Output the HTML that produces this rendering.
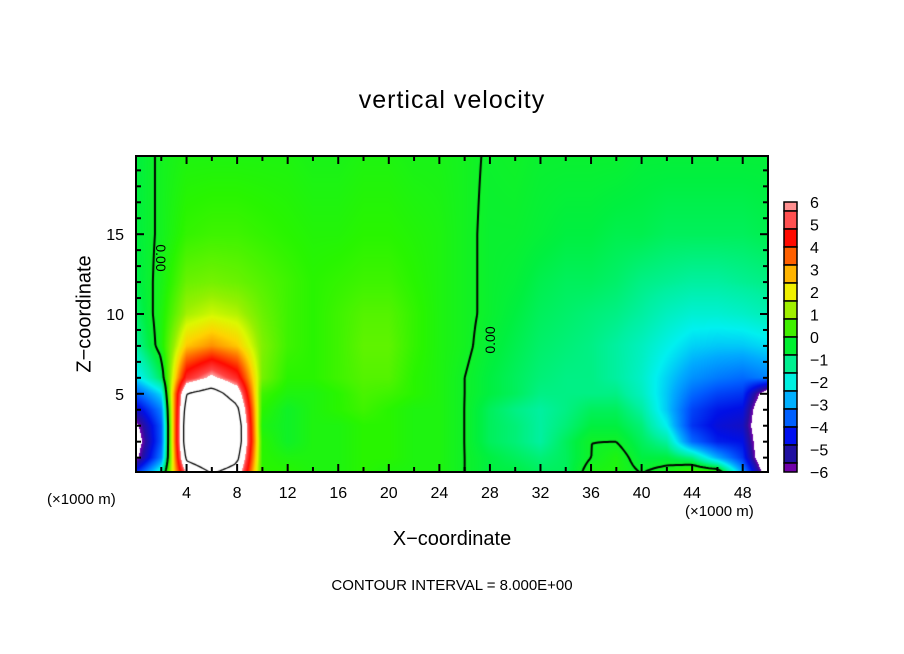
<!DOCTYPE html>
<html><head><meta charset="utf-8">
<style>
body{margin:0;background:#fff;width:904px;height:654px;overflow:hidden;font-family:"Liberation Sans",sans-serif;}
#wrap{position:relative;width:904px;height:654px;}
.t{position:absolute;color:#000;white-space:nowrap;}
canvas{position:absolute;}
</style></head><body>
<div id="wrap">
<div class="t" style="left:0;width:904px;text-align:center;top:86px;font-size:25px;letter-spacing:1px">vertical velocity</div>
<canvas id="field" width="632" height="316" style="left:136px;top:156px"></canvas>
<svg id="ax" width="904" height="654" style="position:absolute;left:0;top:0"></svg>
<div class="t" style="left:85px;top:314px;font-size:20px;transform:translate(-50%,-50%) rotate(-90deg)">Z−coordinate</div>
<div class="t" style="left:0;width:904px;text-align:center;top:528px;font-size:20px">X−coordinate</div>
<div class="t" style="left:47px;top:491px;font-size:15px">(×1000 m)</div>
<div class="t" style="left:685px;top:503px;font-size:15px">(×1000 m)</div>
<div class="t" style="left:0;width:904px;text-align:center;top:577px;font-size:15px">CONTOUR INTERVAL = 8.000E+00</div>
</div>
<script>
const xs=[0,2,4,6,8,10,12,14,16,18,20,22,24,26,28,30,32,34,36,38,40,42,44,46,48,50];
const zs=[0,1,2,3,4,5,6,8,10,12,15,20];
const w0=[-4,-1,6,8,7,0.5,0.5,0.3,0.3,0.5,0.3,0.3,0.3,0,-0.3,-0.3,-0.5,-0.5,0.3,0.3,0,0.3,1,1,-2.5,-7];
const w1=[-6.3,-3,8.5,10,8.5,0.5,0.3,0.3,0.3,0.5,0.5,0.3,0.3,0,-0.3,-0.5,-0.7,-0.5,0,0.3,-0.3,-0.3,-0.8,-2.5,-4,-8];
const w2=[-6.8,-3.5,9.5,11,9.5,0.5,0,0.3,0.3,0.5,0.5,0.3,0.3,0,-0.5,-0.7,-1,-0.5,0,0,-0.5,-1,-3.3,-4.3,-4.5,-8];
const w3=[-6.3,-3.5,9.5,11,9.5,0.3,0,0.3,0.3,0.5,0.5,0.3,0.3,0,-0.5,-0.7,-1,-0.7,-0.3,-0.3,-0.7,-1.8,-4,-4.7,-5,-8];
const w4=[-5,-3,9,10,8.5,0.5,0,0.3,0.5,0.7,0.5,0.3,0.3,0,-0.5,-0.8,-1,-0.8,-0.5,-0.5,-1,-2.2,-3.8,-4.4,-4.6,-8];
const w5=[-3.5,-2,8,9,7,0.7,0.3,0.3,0.5,0.8,0.7,0.5,0.3,0,-0.3,-0.5,-0.8,-0.8,-0.8,-0.8,-1.3,-2.2,-3.3,-3.8,-4,-7];
const w6=[-2,-0.5,5,6.3,5,1.2,0.5,0.5,0.7,0.9,0.9,0.5,0.3,0,-0.3,-0.5,-0.7,-0.8,-0.8,-1,-1.4,-2.1,-2.8,-3.1,-3.3,-3];
const w8=[-1,0.3,2.7,3.2,2.7,1.3,0.7,0.5,0.7,1,1,0.6,0.3,0.1,-0.2,-0.4,-0.6,-0.7,-0.8,-1,-1.3,-1.7,-2.1,-2.2,-2.2,-2];
const w10=[-0.6,0.3,1.6,1.9,1.7,1.1,0.7,0.5,0.7,0.9,0.9,0.6,0.3,0.1,-0.1,-0.3,-0.5,-0.6,-0.7,-0.8,-1,-1.3,-1.5,-1.5,-1.4,-1.2];
const w12=[-0.4,0.2,1.1,1.2,1.1,0.9,0.7,0.5,0.6,0.7,0.7,0.5,0.3,0.1,-0.1,-0.2,-0.4,-0.5,-0.5,-0.6,-0.8,-0.9,-1,-1,-0.9,-0.8];
const w15=[-0.3,0.1,0.6,0.7,0.7,0.6,0.5,0.4,0.4,0.5,0.5,0.4,0.3,0.1,-0.1,-0.1,-0.2,-0.3,-0.3,-0.4,-0.4,-0.5,-0.5,-0.5,-0.5,-0.4];
const w20=[-0.3,0.1,0.3,0.3,0.3,0.3,0.3,0.2,0.2,0.3,0.3,0.2,0.2,0.1,-0.05,0,-0.1,-0.1,-0.1,-0.1,-0.2,-0.2,-0.2,-0.2,-0.2,-0.2];
const grid=[w0,w1,w2,w3,w4,w5,w6,w8,w10,w12,w15,w20];
const xTicks=[4,8,12,16,20,24,28,32,36,40,44,48];
const zTicks=[5,10,15];
const cbLabels=[6,5,4,3,2,1,0,-1,-2,-3,-4,-5,-6];
const cbColors=['#ff9090','#ff5050','#ff0a00','#ff6000','#ffb400','#f0f000','#a0f000','#40f000','#00f030','#00f090','#00f0e0','#00b0ff','#0060ff','#0010f0','#2010a0','#7000a8'];
const contourLevels=[0,8,-8];

const X0=136,X1=768,Y0=156,Y1=472,XMIN=0,XMAX=50,ZMIN=0.1,ZMAX=19.9;
const sx=x=>X0+(x-XMIN)/(XMAX-XMIN)*(X1-X0);
const sz=z=>Y1-(z-ZMIN)/(ZMAX-ZMIN)*(Y1-Y0);

function idx(arr,v){let i=0;while(i<arr.length-2&&v>arr[i+1])i++;return i;}
function val(x,z){const i=idx(xs,x),j=idx(zs,z);
 const tx=Math.max(0,Math.min(1,(x-xs[i])/(xs[i+1]-xs[i]))),tz=Math.max(0,Math.min(1,(z-zs[j])/(zs[j+1]-zs[j])));
 const a=grid[j][i],b=grid[j][i+1],c=grid[j+1][i],d=grid[j+1][i+1];
 return (a*(1-tx)+b*tx)*(1-tz)+(c*(1-tx)+d*tx)*tz;}
const stops=[[-6,[112,0,168]],[-5.5,[40,16,160]],[-4.5,[0,16,230]],[-3.5,[0,90,255]],[-2.5,[0,170,255]],[-1.8,[0,240,240]],[-1,[0,240,160]],[-0.3,[0,240,64]],[0.5,[40,245,0]],[1.5,[150,240,0]],[2,[220,248,0]],[2.6,[255,210,0]],[3.5,[255,110,0]],[4.5,[255,10,0]],[5.5,[255,70,70]],[6,[255,160,160]]];
function col(v){if(v>6||v<-6)return[255,255,255];
 for(let k=0;k<stops.length-1;k++){if(v<=stops[k+1][0]){const t=(v-stops[k][0])/(stops[k+1][0]-stops[k][0]);const a=stops[k][1],b=stops[k+1][1];return a.map((q,n)=>Math.round(q+(b[n]-q)*Math.max(0,t)));}}
 return stops[stops.length-1][1];}
const cv=document.getElementById('field'),ctx=cv.getContext('2d');
const W=cv.width,H=cv.height,img=ctx.createImageData(W,H);
for(let py=0;py<H;py++)for(let px=0;px<W;px++){
 const x=XMIN+(px+0.5)/W*(XMAX-XMIN),z=ZMAX-(py+0.5)/H*(ZMAX-ZMIN);
 const c=col(val(x,z)),o=(py*W+px)*4;img.data[o]=c[0];img.data[o+1]=c[1];img.data[o+2]=c[2];img.data[o+3]=255;}
ctx.putImageData(img,0,0);
const S=3,nx=Math.ceil(W/S),ny=Math.ceil(H/S);
const F=[];for(let j=0;j<=ny;j++){F.push([]);for(let i=0;i<=nx;i++){F[j].push(val(XMIN+i*S/W*(XMAX-XMIN),ZMAX-j*S/H*(ZMAX-ZMIN)));}}
ctx.strokeStyle='#000';
contourLevels.forEach(L=>{
 ctx.lineWidth=L===0?2:1.3;ctx.setLineDash(L<0?[6,4]:[]);ctx.beginPath();
 for(let j=0;j<ny;j++)for(let i=0;i<nx;i++){
  const p=[[i,j,F[j][i]],[i+1,j,F[j][i+1]],[i+1,j+1,F[j+1][i+1]],[i,j+1,F[j+1][i]]];const pts=[];
  for(let k=0;k<4;k++){const a=p[k],b=p[(k+1)%4];if((a[2]-L)*(b[2]-L)<0){const t=(L-a[2])/(b[2]-a[2]);pts.push([(a[0]+(b[0]-a[0])*t)*S,(a[1]+(b[1]-a[1])*t)*S]);}}
  for(let k=0;k+1<pts.length;k+=2){ctx.moveTo(pts[k][0],pts[k][1]);ctx.lineTo(pts[k+1][0],pts[k+1][1]);}
 }ctx.stroke();});
ctx.setLineDash([]);
const svg=document.getElementById('ax'),NS='http://www.w3.org/2000/svg';
function mk(t,a,p){const e=document.createElementNS(NS,t);for(const k in a)e.setAttribute(k,a[k]);(p||svg).appendChild(e);return e;}
const frame=mk('rect',{x:X0,y:Y0,width:X1-X0,height:Y1-Y0,fill:'none',stroke:'#000','stroke-width':2});


for(let x=2;x<50;x+=2){const big=x%4===0,L=big?8:5;
 mk('line',{x1:sx(x),x2:sx(x),y1:Y1,y2:Y1-L,stroke:'#000','stroke-width':2});
 mk('line',{x1:sx(x),x2:sx(x),y1:Y0,y2:Y0+L,stroke:'#000','stroke-width':2});}
for(let z=1;z<20;z++){const big=z%5===0,L=big?8:5;
 mk('line',{x1:X0,x2:X0+L,y1:sz(z),y2:sz(z),stroke:'#000','stroke-width':2});
 mk('line',{x1:X1,x2:X1-L,y1:sz(z),y2:sz(z),stroke:'#000','stroke-width':2});}
xTicks.forEach(x=>{const t=mk('text',{x:sx(x),y:498,'text-anchor':'middle','font-size':16,'font-family':'Liberation Sans'});t.textContent=x;
 
 });
zTicks.forEach(z=>{const t=mk('text',{x:124,y:sz(z)+6,'text-anchor':'end','font-size':16,'font-family':'Liberation Sans'});t.textContent=z;
 
 });
[['translate(161,258) rotate(90)'],['translate(490,340) rotate(-90)']].forEach((tr)=>{const t=mk('text',{transform:tr[0],'text-anchor':'middle','font-size':14,'font-family':'Liberation Sans',dy:5});t.textContent='0.00';
 
 });
// colorbar: half-size end bins, full bins between
const CB0=202,CB1=472,nb=cbColors.length,bh=(CB1-CB0)/(nb-1);
cbColors.forEach((c,k)=>{
 const y=k===0?CB0:CB0+bh/2+(k-1)*bh,hh=(k===0||k===nb-1)?bh/2:bh;
 const r=mk('rect',{x:784,y:y,width:13,height:hh,fill:c,stroke:'#000','stroke-width':1.5});
 
 });
const lh=(CB1-CB0)/(cbLabels.length-1);
cbLabels.forEach((v,k)=>{const t=mk('text',{x:810,y:CB0+k*lh+6,'font-size':16,'font-family':'Liberation Sans'});t.textContent=v<0?'−'+(-v):v;
 
 });
</script>
</body></html>
